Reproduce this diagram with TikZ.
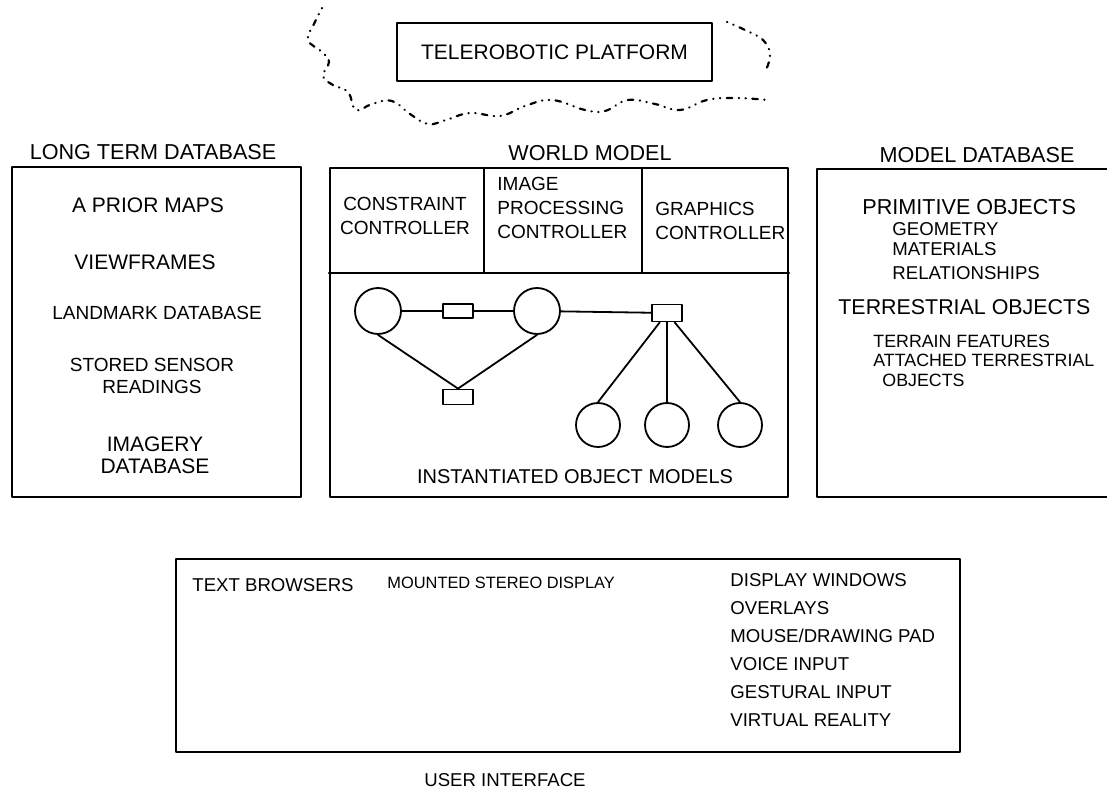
\documentclass[tikz,border=0pt]{standalone}
\usepackage{fontspec}
\setmainfont{Liberation Sans}
\usetikzlibrary{positioning}
\newcommand{\headsize}{\fontsize{10.8}{12}\selectfont}
\newcommand{\itemsize}{\fontsize{10.5}{11}\selectfont}
\newcommand{\ctrlsize}{\fontsize{9.5}{12}\selectfont}
\newcommand{\subsize}{\fontsize{9.3}{11}\selectfont}

\begin{document}
\begin{tikzpicture}[x=0.5pt, y=-0.5pt, % one unit per pixel, y runs down the page
                    line join=round, line cap=round, % makes the corners look nicer
                    every node/.style = {inner sep=1pt},
                    frame/.style = {draw, line width=1.1pt, inner sep=0pt},
                    head/.style = {font=\headsize},
                    entry/.style = {font=\itemsize, align=center},
                    subentry/.style = {font=\subsize, align=left, anchor=west},
                    obj/.style = {draw, circle, line width=0.9pt, minimum size=23pt, inner sep=0pt},
                    rel/.style = {draw, rectangle, line width=0.9pt, minimum width=15pt, minimum height=7pt, inner sep=0pt},
                    link/.style = {line width=0.9pt},
                    cloudedge/.style = {line width=1.1pt, dash pattern=on 0.2pt off 3.2pt on 0.2pt off 3.2pt on 2.8pt off 3.2pt}
                   ]
  \useasboundingbox (0,0) rectangle (1107,795);

  % platform and its cloud
  \node[frame, line width=1.3pt, minimum width=157.5pt, minimum height=29pt, font=\fontsize{10.5}{12}\selectfont] (tele) at (554.5,52) {TELEROBOTIC PLATFORM};
  \draw[cloudedge] plot[smooth, tension=0.7] coordinates {(322,8) (314,24) (308,40) (322,52) (329,62) (323,76) (333,85) (348,92) (356,110) (372,104) (392,101) (410,114) (428,124) (446,120) (470,113) (500,116) (525,106) (552,100) (585,110) (605,111) (628,100) (655,104) (680,110) (707,100) (735,98) (768,100)};
  \draw[cloudedge] plot[smooth, tension=0.7] coordinates {(727,22) (745,30) (763,40) (770,55) (765,72)};

  % long term database
  \node[head] (ltdbhead) at (153,152) {LONG TERM DATABASE};
  \node[frame, minimum width=144.5pt, minimum height=165pt] (ltdb) at (156.5,332) {};
  \node[entry] (maps) at (148,205) {A PRIOR MAPS};
  \node[entry] (views) at (145,262) {VIEWFRAMES};
  \node[entry, font=\fontsize{9.5}{11}\selectfont] (marks) at (157,313) {LANDMARK DATABASE};
  \node[entry, font=\fontsize{9.5}{11}\selectfont] (sensor) at (152,376) {STORED SENSOR\\READINGS};
  \node[entry] (imagery) at (155,455) {IMAGERY\\DATABASE};

  % world model
  \node[head] (wmhead) at (590,153) {WORLD MODEL};
  \node[frame, minimum width=229pt, minimum height=164.5pt] (wm) at (559,332.5) {};
  \draw[line width=1.1pt] (wm.west |- 0,273) -- (wm.east |- 0,273);
  \draw[line width=1.1pt] (484,168) -- (484,273)
                          (642,168) -- (642,273);
  \node[font=\ctrlsize, align=center] (cstr) at (405,215.5) {CONSTRAINT\\CONTROLLER};
  \node[font=\ctrlsize, align=left, anchor=west] (improc) at (495,207.5) {IMAGE\\PROCESSING\\CONTROLLER};
  \node[font=\ctrlsize, align=left, anchor=west] (graph) at (653,221) {GRAPHICS\\CONTROLLER};

  % instantiated object models
  \node[obj] (oa) at (378,311) {};
  \node[rel] (ra) at (458,311) {};
  \node[obj] (ob) at (537,311) {};
  \node[rel, minimum height=8.5pt] (rb) at (667,313) {};
  \node[rel, minimum height=7.5pt] (rc) at (458,397) {};
  \node[obj, minimum size=22pt] (oc) at (598,425) {};
  \node[obj, minimum size=22pt] (od) at (667,425) {};
  \node[obj, minimum size=22pt] (oe) at (740,425) {};
  \draw[link] (oa) -- (ra) -- (ob) -- (rb);
  \draw[link] (oa.south) -- (rc.north) -- (ob.south);
  \foreach \leaf in {oc,od,oe}
    \draw[link] (rb) -- (\leaf.north);
  \node[font=\fontsize{10}{12}\selectfont] (inst) at (575,477) {INSTANTIATED OBJECT MODELS};

  % model database, runs off the right edge
  \node[head] (mdbhead) at (977,155) {MODEL DATABASE};
  \draw[line width=1.1pt] (1107,169) -- (817,169) -- (817,497) -- (1107,497);
  \node[subentry, font=\fontsize{10.8}{12}\selectfont] (prim) at (860,207) {PRIMITIVE OBJECTS};
  \node[subentry] (geom) at (890,229) {GEOMETRY};
  \node[subentry] (mat) at (890,249) {MATERIALS};
  \node[subentry] (relat) at (890,273) {RELATIONSHIPS};
  \node[subentry, font=\fontsize{10.7}{12}\selectfont] (terr) at (836,307) {TERRESTRIAL OBJECTS};
  \node[subentry, font=\fontsize{8.9}{11}\selectfont] (feat) at (871,341) {TERRAIN FEATURES};
  \node[subentry, font=\fontsize{8.9}{11}\selectfont] (attach) at (871,360) {ATTACHED TERRESTRIAL};
  \node[subentry, font=\fontsize{8.9}{11}\selectfont] (attobj) at (880,380) {OBJECTS};

  % user interface
  \node[frame, minimum width=392pt, minimum height=96.5pt] (ui) at (568,655.5) {};
  \node[subentry] (browse) at (190,585) {TEXT BROWSERS};
  \node[subentry, font=\fontsize{8.2}{10}\selectfont] (stereo) at (385,583) {MOUNTED STEREO DISPLAY};
  \foreach \name/\txt [count=\i from 0] in {win/{DISPLAY WINDOWS}, over/{OVERLAYS}, mouse/{MOUSE/DRAWING PAD},
                                           voice/{VOICE INPUT}, gest/{GESTURAL INPUT}, vr/{VIRTUAL REALITY}}
    \node[subentry] (\name) at (728,580+28*\i) {\txt};
  \node[font=\fontsize{9.3}{11}\selectfont] (uihead) at (505,780) {USER INTERFACE};
\end{tikzpicture}
\end{document}
